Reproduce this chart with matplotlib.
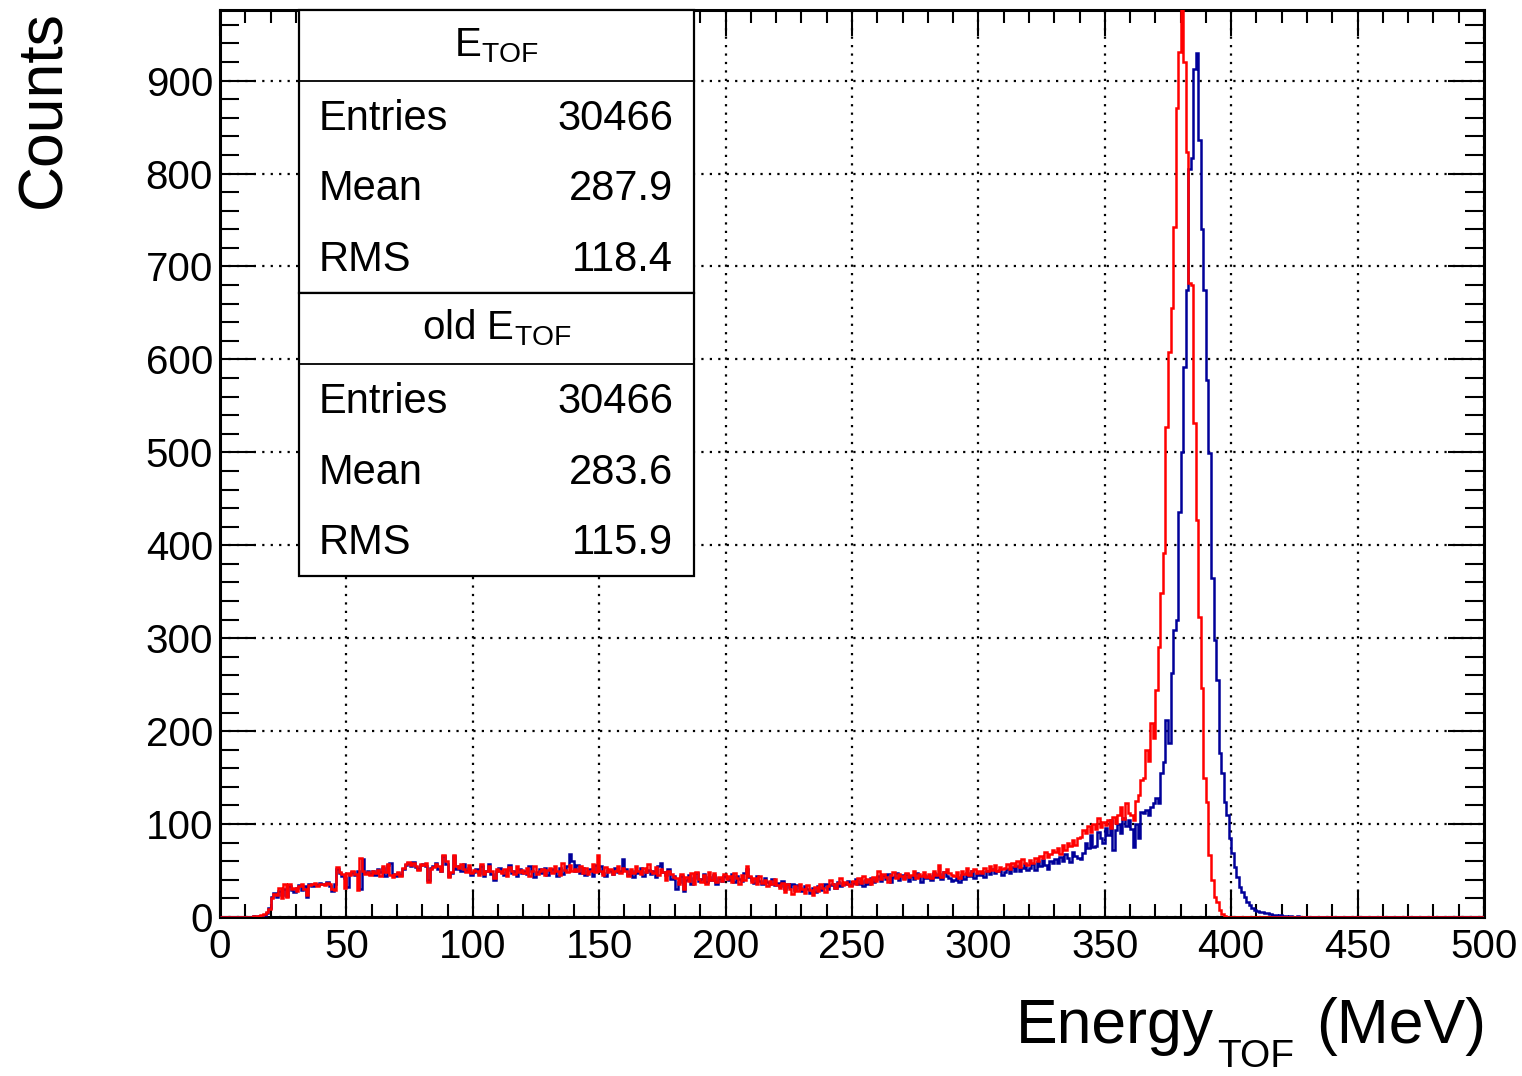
import numpy as np
import matplotlib
matplotlib.use('Agg')
import matplotlib.pyplot as plt
from matplotlib.patches import Rectangle
from matplotlib.lines import Line2D
from matplotlib.ticker import MultipleLocator

plt.rcParams['font.family'] = ['Liberation Sans', 'DejaVu Sans']
plt.rcParams['mathtext.fontset'] = 'custom'
plt.rcParams['mathtext.rm'] = 'Liberation Sans'
plt.rcParams['mathtext.it'] = 'Liberation Sans:italic'

# histogram binning (MeV)
x_min, x_max, bin_width = 0, 500, 1
y_max = 976

# E_TOF (blue), counts per 1 MeV bin
e_tof_counts = [0] * 10 + [
    0, 0, 0, 1, 0, 1, 1, 2, 4, 10,
    22, 26, 21, 28, 24, 30, 23, 33, 29, 27,
    31, 34, 29, 33, 21, 35, 33, 36, 34, 37,
    35, 36, 38, 33, 28, 36, 52, 47, 44, 42,
    32, 46, 48, 45, 50, 30, 62, 47, 49, 46,
    50, 45, 52, 48, 53, 44, 56, 58, 46, 44,
    47, 45, 52, 56, 58, 55, 59, 54, 52, 56,
    57, 55, 40, 53, 55, 58, 52, 49, 66, 57,
    44, 47, 66, 52, 55, 50, 57, 49, 53, 45,
    48, 52, 47, 55, 44, 49, 57, 46, 40, 50,
    53, 48, 45, 51, 56, 47, 49, 44, 52, 47,
    50, 46, 55, 49, 43, 48, 52, 47, 53, 45,
    49, 52, 48, 44, 53, 46, 51, 55, 68, 60,
    50, 56, 47, 53, 45, 49, 52, 44, 56, 50,
    55, 47, 44, 51, 49, 46, 53, 48, 50, 62,
    52, 45, 49, 43, 50, 47, 53, 44, 48, 51,
    46, 50, 43, 55, 58, 48, 45, 52, 41, 44,
    30, 38, 44, 28, 40, 45, 36, 42, 47, 39,
    41, 46, 38, 43, 40, 45, 36, 42, 39, 44,
    43, 40, 46, 38, 44, 41, 39, 47, 52, 43,
    40, 37, 44, 39, 35, 42, 38, 36, 41, 34,
    37, 33, 39, 30, 35, 32, 36, 29, 34, 31,
    28, 33, 30, 26, 31, 27, 33, 29, 32, 35,
    30, 34, 36, 31, 38, 33, 37, 35, 39, 34,
    37, 41, 35, 39, 33, 40, 36, 42, 38, 41,
    44, 39, 45, 41, 46, 38, 43, 47, 40, 45,
    42, 46, 39, 44, 41, 47, 43, 38, 45, 42,
    44, 40, 47, 43, 46, 41, 48, 44, 42, 39,
    40, 43, 38, 45, 41, 47, 44, 49, 42, 46,
    45, 48, 43, 50, 46, 52, 47, 49, 51, 45,
    48, 52, 47, 54, 50, 55, 49, 53, 57, 51,
    53, 57, 51, 59, 55, 61, 56, 52, 60, 58,
    62, 58, 65, 60, 68, 63, 59, 70, 66, 64,
    62, 69, 80, 74, 88, 75, 76, 92, 85, 80,
    96, 88, 104, 72, 94, 100, 90, 107, 98, 104,
    95, 75, 100, 85, 113, 112, 115, 110, 118, 123,
    128, 123, 155, 167, 212, 187, 263, 309, 320, 436,
    500, 592, 675, 805, 817, 912, 930, 836, 740, 675,
    578, 499, 365, 298, 255, 177, 155, 124, 110, 85,
    69, 54, 43, 32, 27, 22, 16, 13, 10, 8,
    6, 5, 5, 4, 4, 3, 2, 2, 1, 2,
    1, 1, 0, 1, 0, 0, 1, 0, 0, 0,
] + [0] * 70

# old E_TOF (red), counts per 1 MeV bin
old_e_tof_counts = [0] * 10 + [
    0, 0, 0, 1, 1, 1, 2, 3, 5, 9,
    20, 25, 24, 31, 20, 36, 22, 35, 30, 31,
    28, 33, 35, 30, 24, 34, 35, 37, 33, 36,
    36, 34, 37, 35, 30, 29, 54, 48, 46, 31,
    47, 45, 49, 46, 29, 63, 50, 46, 48, 45,
    49, 47, 51, 44, 55, 48, 57, 45, 43, 46,
    48, 44, 53, 57, 59, 56, 58, 55, 51, 57,
    56, 58, 38, 52, 54, 57, 55, 50, 67, 60,
    43, 48, 67, 55, 53, 57, 52, 48, 56, 47,
    51, 49, 45, 57, 46, 50, 55, 49, 42, 52,
    50, 47, 52, 44, 54, 49, 46, 55, 48, 51,
    47, 53, 44, 50, 55, 46, 49, 52, 45, 51,
    53, 47, 55, 49, 45, 58, 51, 48, 56, 50,
    52, 49, 55, 47, 53, 46, 50, 57, 48, 67,
    50, 45, 54, 48, 52, 46, 50, 55, 47, 53,
    49, 44, 52, 47, 55, 50, 46, 53, 48, 57,
    50, 47, 54, 45, 52, 48, 40, 50, 46, 43,
    42, 35, 46, 30, 43, 39, 47, 36, 48, 41,
    38, 45, 35, 48, 40, 47, 38, 43, 39, 46,
    41, 44, 38, 47, 42, 36, 45, 40, 55, 44,
    38, 42, 35, 44, 37, 40, 33, 39, 36, 41,
    34, 31, 37, 27, 36, 30, 25, 33, 28, 35,
    30, 26, 34, 29, 24, 32, 28, 36, 31, 27,
    33, 40, 35, 31, 37, 42, 34, 38, 36, 33,
    39, 35, 42, 37, 44, 38, 41, 36, 43, 39,
    50, 41, 46, 43, 38, 45, 48, 42, 46, 44,
    41, 47, 43, 45, 49, 42, 46, 44, 48, 43,
    46, 42, 50, 45, 56, 43, 48, 52, 47, 45,
    44, 48, 42, 50, 46, 53, 45, 49, 52, 47,
    50, 47, 53, 49, 55, 51, 56, 50, 54, 52,
    53, 57, 52, 58, 55, 60, 54, 62, 58, 56,
    61, 58, 64, 60, 66, 63, 70, 65, 68, 72,
    70, 74, 68, 77, 72, 80, 76, 83, 78, 85,
    86, 94, 90, 98, 92, 100, 95, 106, 97, 102,
    99, 104, 96, 108, 101, 110, 118, 105, 123, 112,
    110, 104, 125, 131, 147, 150, 180, 168, 209, 193,
    244, 291, 349, 392, 527, 608, 655, 743, 871, 931,
    1010, 920, 823, 682, 680, 532, 427, 323, 246, 150,
    124, 67, 40, 22, 16, 8, 3, 1, 0, 0,
] + [0] * 100

# stat boxes
stat_titles = [r'$\mathrm{E}_{\mathrm{TOF}}$', r'old $\mathrm{E}_{\mathrm{TOF}}$']
stat_names = ['Entries', 'Mean', 'RMS']
stat_values = [['30466', '287.9', '118.4'],
               ['30466', '283.6', '115.9']]

W, H = 1522, 1076


def fx(x):
    return x / W


def fy(y):
    return 1 - y / H


def draw_hist(ax):
    edges = np.arange(x_min, x_max + bin_width, bin_width)
    assert len(e_tof_counts) == len(edges) - 1
    assert len(old_e_tof_counts) == len(edges) - 1
    ax.stairs(e_tof_counts, edges, color='#000099', lw=1.8, zorder=3)
    ax.stairs(old_e_tof_counts, edges, color='#ff0000', lw=1.8, zorder=4)


def style_axes(ax):
    ax.set_xlim(x_min, x_max)
    ax.set_ylim(0, y_max)
    ax.xaxis.set_major_locator(MultipleLocator(50))
    ax.xaxis.set_minor_locator(MultipleLocator(10))
    ax.yaxis.set_major_locator(MultipleLocator(100))
    ax.yaxis.set_minor_locator(MultipleLocator(20))
    ax.tick_params(which='both', direction='in', top=True, right=True,
                   width=1.5, labelsize=29)
    ax.xaxis.set_tick_params(which='major', length=19, pad=8)
    ax.xaxis.set_tick_params(which='minor', length=9.5)
    ax.yaxis.set_tick_params(which='major', length=26, pad=5)
    ax.yaxis.set_tick_params(which='minor', length=13.5)
    for s in ax.spines.values():
        s.set_linewidth(2.2)
    ax.grid(True, which='major', color='black', lw=1.6, ls=(0, (1, 2.8)))
    ax.set_axisbelow(True)


def draw_labels(fig, ax):
    fig.text(fx(44), fy(10), 'Counts', rotation=90, ha='center', va='top',
             fontsize=45)
    # Energy_TOF (MeV), assembled right to left so the subscript sits low
    t1 = fig.text(fx(1486), fy(1043), '(MeV)', ha='right', va='baseline',
                  fontsize=45)
    t2 = ax.annotate('TOF', xy=(0, 9), xycoords=(t1, 'figure pixels'),
                     xytext=(-16, 0), textcoords='offset points',
                     ha='right', va='baseline', fontsize=28,
                     annotation_clip=False)
    ax.annotate('Energy', xy=(0, H - 1043), xycoords=(t2, 'figure pixels'),
                xytext=(-2, 0), textcoords='offset points',
                ha='right', va='baseline', fontsize=45,
                annotation_clip=False)


def draw_stat_boxes(fig):
    left, right = 299, 694
    row_h = 70.75
    for i, (title, vals) in enumerate(zip(stat_titles, stat_values)):
        top = 10 + i * 4 * row_h
        fig.add_artist(Rectangle((fx(left), fy(top + 4 * row_h)),
                                 fx(right) - fx(left), 4 * row_h / H,
                                 transform=fig.transFigure, facecolor='white',
                                 edgecolor='black', lw=1.6, zorder=5))
        fig.add_artist(Line2D([fx(left), fx(right)],
                              [fy(top + row_h)] * 2,
                              transform=fig.transFigure, color='black',
                              lw=1.3, zorder=6))
        fig.text(fx((left + right) / 2), fy(top + 46), title,
                 ha='center', va='baseline', fontsize=29, zorder=7)
        for j, (name, val) in enumerate(zip(stat_names, vals)):
            base = top + (j + 1) * row_h + 49
            fig.text(fx(319), fy(base), name, ha='left', va='baseline',
                     fontsize=30, zorder=7)
            fig.text(fx(673), fy(base), val, ha='right', va='baseline',
                     fontsize=30, zorder=7)


def main():
    fig = plt.figure(figsize=(W / 100, H / 100), dpi=100)
    ax = fig.add_axes([fx(220), fy(917), fx(1484) - fx(220), (917 - 10) / H])
    draw_hist(ax)
    style_axes(ax)
    draw_labels(fig, ax)
    draw_stat_boxes(fig)
    fig.savefig('out.png', dpi=100)


if __name__ == '__main__':
    main()
